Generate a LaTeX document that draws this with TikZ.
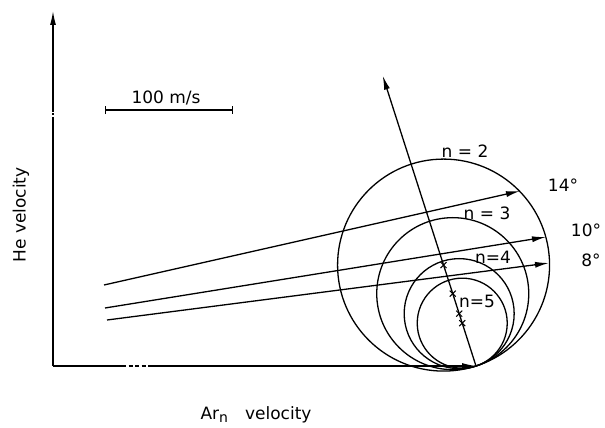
\documentclass[tikz,border=0pt]{standalone}
\usepackage{fontspec}
\setmainfont{DejaVu Sans}
\usepackage{tikz}
\usetikzlibrary{arrows.meta,calc}
\tikzset{
  vec/.style={
    line width=1.3pt,
    -{Latex[length=14pt,width=6pt]}
  },
  ctr/.style={
    line width=1pt
  },
  lbl/.style={
    inner sep=0pt,
    font=\fontsize{17}{20}\selectfont
  },
  every picture/.style={
    x=1pt,
    y=-1pt,
    line width=1.3pt
  }
}

\begin{document}
\begin{tikzpicture}
  \useasboundingbox (0,0) rectangle (605,428);
  \coordinate (O) at (53,366);
  \coordinate (He) at (53,11);
  \coordinate (B) at (476,366);
  \coordinate (T) at (382.7,75.7);
  \coordinate (hb1) at (122,366);
  \coordinate (hb2) at (150,366);
  \coordinate (vb1) at (53,119);
  \coordinate (vb2) at (53,112);

  % axes
  \draw (O) -- (hb1);
  \draw[dash pattern=on 4pt off 2.5pt] (hb1) -- (hb2);
  \draw[vec] (hb2) -- (B);
  \draw (O) -- (vb1);
  \draw[dash pattern=on 2pt off 2pt] (vb1) -- (vb2);
  \draw[vec] (vb2) -- (He);

  \draw[vec] (B) -- (T);

  \foreach \n/\rad in {2/106,3/76,4/55,5/45}{
    \coordinate (c\n) at ($(B)!\rad pt!(T)$);
    \draw (c\n) circle[radius=\rad pt];
    \draw[ctr] ($(c\n)+(-3,-3)$) -- ($(c\n)+(3,3)$)
               ($(c\n)+(-3,3)$) -- ($(c\n)+(3,-3)$);
  }

  \coordinate (s14) at (104,285);
  \coordinate (e14) at (520,191);
  \coordinate (s10) at (105,308);
  \coordinate (e10) at (546,237);
  \coordinate (s8) at (107,320);
  \coordinate (e8) at (549,263);
  \draw[vec] (s14) -- (e14);
  \draw[vec] (s10) -- (e10);
  \draw[vec] (s8) -- (e8);

  \node[lbl] (n2) at (465,151) {n = 2};
  \node[lbl] (n3) at (487,213) {n = 3};
  \node[lbl] (n4) at (493,257) {n=4};
  \node[lbl] (n5) at (477,301) {n=5};
  \node[lbl] (a14) at (563,185) {14°};
  \node[lbl] (a10) at (586,230) {10°};
  \node[lbl] (a8) at (591,260) {8°};

  % scale bar
  \coordinate (sL) at (105,110);
  \coordinate (sR) at (233,110);
  \draw[{Bar[width=8pt]}-{Bar[width=8pt]}, line width=1.1pt] (sL) -- (sR);
  \node[lbl] (scl) at (166,98) {100 m/s};

  \node[lbl, rotate=90] (ylab) at (21,215) {He velocity};
  \node[lbl, anchor=base] (xlab) at (256,419)
    {Ar\raisebox{-3pt}{\fontsize{14}{16}\selectfont n}\quad velocity};
\end{tikzpicture}
\end{document}
